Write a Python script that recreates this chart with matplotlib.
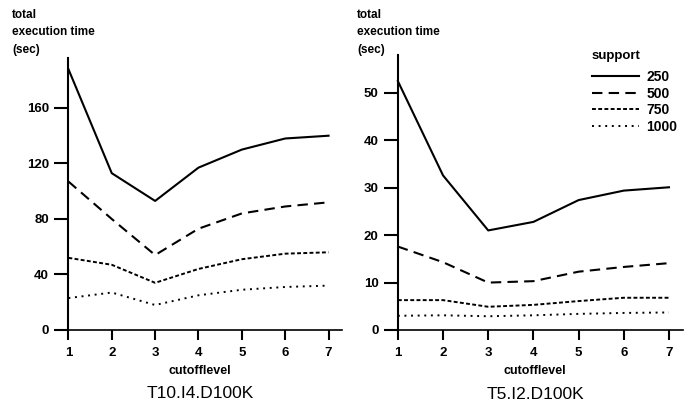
import matplotlib.pyplot as plt

plt.rcParams['font.family'] = ['Liberation Sans', 'DejaVu Sans']

levels = [1, 2, 3, 4, 5, 6, 7]
supports = ['250', '500', '750', '1000']

# T10.I4.D100K
left_250 = [188, 113, 93, 117, 130, 138, 140]
left_500 = [107, 80, 54, 73, 84, 89, 92]
left_750 = [52, 47, 34, 44, 51, 55, 56]
left_1000 = [23, 27, 18, 25, 29, 31, 32]

# T5.I2.D100K
right_250 = [52.5, 32.6, 21.0, 22.8, 27.4, 29.4, 30.1]
right_500 = [17.6, 14.3, 10.0, 10.3, 12.3, 13.3, 14.1]
right_750 = [6.3, 6.3, 4.9, 5.3, 6.1, 6.8, 6.8]
right_1000 = [3.0, 3.1, 2.9, 3.1, 3.4, 3.6, 3.7]

left_ticks = [0, 40, 80, 120, 160]
right_ticks = [0, 10, 20, 30, 40, 50]

styles = [
    dict(linestyle='-', lw=1.5),
    dict(linestyle=(0, (5, 3)), lw=1.5),
    dict(linestyle=(0, (2, 1.2)), lw=1.4),
    dict(linestyle=(0, (1, 2.4)), lw=1.4),
]

W, H = 690, 407
fig = plt.figure(figsize=(W / 100, H / 100), dpi=100)

ax1 = fig.add_axes([58 / W, 1 - 330 / H, 284 / W, 272 / H])
ax2 = fig.add_axes([387 / W, 1 - 330 / H, 296 / W, 275 / H])

def setup(ax, series, ticks, ymax, title):
    lines = []
    for vals, st, lab in zip(series, styles, supports):
        ln, = ax.plot(levels, vals, color='black', label=lab, **st)
        lines.append(ln)
    ax.set_ylim(0, ymax)
    ax.set_xlim(1 - 0.24, 7.31)
    for s in ['top', 'right']:
        ax.spines[s].set_visible(False)
    ax.spines['left'].set_position(('data', 1))
    ax.spines['left'].set_linewidth(1.5)
    ax.spines['bottom'].set_linewidth(1.2)
    ax.set_xticks(levels)
    ax.set_yticks(ticks)
    ax.tick_params(axis='x', direction='out', length=7, width=1.5, pad=5.5,
                   labelsize=9.5)
    ax.tick_params(axis='y', direction='out', length=10, width=1.5, pad=4,
                   labelsize=9.5)
    for t in ax.get_xticklabels() + ax.get_yticklabels():
        t.set_fontweight('bold')
    ax.text(0.5, -0.15, 'cutofflevel', transform=ax.transAxes, ha='center',
            va='center', fontsize=9, fontweight='bold')
    ax.text(0.5, -0.235, title, transform=ax.transAxes, ha='center',
            va='center', fontsize=12.5)
    return lines

setup(ax1, [left_250, left_500, left_750, left_1000], left_ticks, 196,
      'T10.I4.D100K')
lines = setup(ax2, [right_250, right_500, right_750, right_1000], right_ticks,
              58, 'T5.I2.D100K')

for x in (12, 357):
    fig.text(x / W, 1 - 9 / H, 'total\nexecution time\n(sec)', ha='left',
             va='top', fontsize=8.5, fontweight='bold', linespacing=1.6)

leg = ax2.legend(handles=lines, title='support', loc='upper left',
                 bbox_to_anchor=((592 - 387) / 296, (330 - 50) / 275),
                 frameon=False, fontsize=10, handlelength=3.4,
                 handletextpad=0.5, labelspacing=0.18, borderpad=0,
                 borderaxespad=0, alignment='left')
leg.get_title().set_fontsize(9.5)
leg.get_title().set_fontweight('bold')
leg._legend_box.sep = 6
for t in leg.get_texts():
    t.set_fontweight('bold')

fig.savefig('out.png', dpi=100)
